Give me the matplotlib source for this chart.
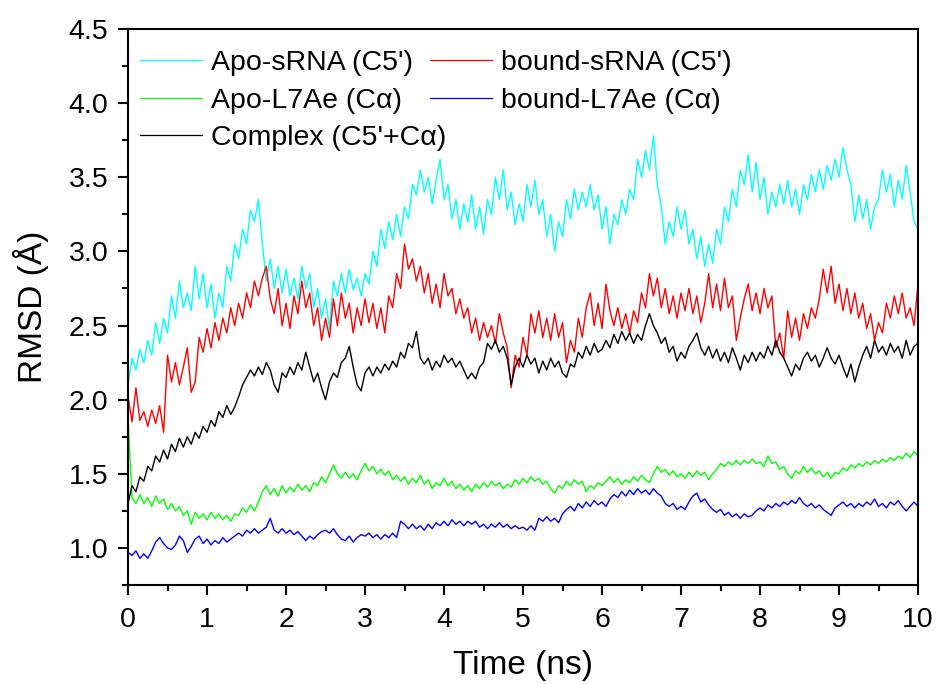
import numpy as np
import matplotlib
matplotlib.use("Agg")
import matplotlib.pyplot as plt
from matplotlib.ticker import MultipleLocator

# Time axis (ns), sampled every 0.05 ns
time_ns = np.round(np.arange(0, 201) * 0.05, 2)

apo_srna = [
    2.10, 2.28, 2.20, 2.34, 2.25, 2.40, 2.30, 2.52, 2.38, 2.55, 2.45, 2.70, 2.55, 2.80, 2.62, 2.72, 2.60, 2.90, 2.68, 2.85,
    2.62, 2.78, 2.55, 2.72, 2.62, 2.90, 2.80, 3.05, 2.95, 3.15, 3.05, 3.28, 3.20, 3.35, 3.05, 2.80, 2.95, 2.75, 2.90, 2.72,
    2.88, 2.70, 2.82, 2.68, 2.90, 2.75, 2.85, 2.62, 2.75, 2.55, 2.68, 2.48, 2.80, 2.70, 2.85, 2.72, 2.88, 2.74, 2.82, 2.70,
    2.85, 2.78, 3.00, 2.90, 3.15, 3.02, 3.20, 3.08, 3.25, 3.10, 3.30, 3.22, 3.45, 3.38, 3.55, 3.40, 3.50, 3.32, 3.48, 3.62,
    3.35, 3.45, 3.22, 3.35, 3.15, 3.32, 3.20, 3.38, 3.15, 3.30, 3.12, 3.35, 3.25, 3.50, 3.35, 3.55, 3.28, 3.40, 3.18, 3.32,
    3.20, 3.45, 3.30, 3.48, 3.25, 3.35, 3.10, 3.25, 3.00, 3.20, 3.10, 3.35, 3.22, 3.42, 3.28, 3.40, 3.30, 3.45, 3.28, 3.38,
    3.15, 3.30, 3.05, 3.25, 3.18, 3.35, 3.25, 3.42, 3.35, 3.62, 3.50, 3.68, 3.55, 3.78, 3.45, 3.30, 3.05, 3.20, 3.10, 3.30,
    3.15, 3.28, 3.05, 3.15, 2.95, 3.10, 2.90, 3.05, 2.92, 3.15, 3.05, 3.30, 3.20, 3.42, 3.30, 3.55, 3.45, 3.65, 3.40, 3.60,
    3.35, 3.50, 3.25, 3.40, 3.30, 3.45, 3.32, 3.48, 3.30, 3.42, 3.25, 3.45, 3.35, 3.52, 3.40, 3.55, 3.42, 3.58, 3.48, 3.62,
    3.50, 3.70, 3.55, 3.45, 3.20, 3.38, 3.22, 3.35, 3.15, 3.30, 3.35, 3.55, 3.40, 3.52, 3.30, 3.48, 3.35, 3.58, 3.40, 3.20,
    3.15,
]

bound_srna = [
    2.02, 1.85, 2.08, 1.86, 1.92, 1.82, 1.93, 1.84, 1.96, 1.78, 2.30, 2.12, 2.25, 2.10, 2.22, 2.35, 2.05, 2.12, 2.42, 2.32,
    2.48, 2.35, 2.52, 2.40, 2.55, 2.45, 2.62, 2.50, 2.65, 2.55, 2.72, 2.62, 2.80, 2.70, 2.82, 2.90, 2.68, 2.58, 2.75, 2.50,
    2.65, 2.48, 2.70, 2.58, 2.80, 2.62, 2.72, 2.50, 2.62, 2.40, 2.55, 2.42, 2.68, 2.50, 2.72, 2.55, 2.65, 2.45, 2.62, 2.50,
    2.68, 2.52, 2.65, 2.48, 2.62, 2.45, 2.70, 2.62, 2.85, 2.75, 3.05, 2.88, 2.95, 2.80, 2.90, 2.72, 2.85, 2.65, 2.78, 2.62,
    2.85, 2.70, 2.75, 2.58, 2.68, 2.55, 2.62, 2.45, 2.55, 2.40, 2.52, 2.42, 2.50, 2.38, 2.58, 2.45, 2.35, 2.08, 2.30, 2.22,
    2.42, 2.30, 2.58, 2.45, 2.60, 2.42, 2.55, 2.40, 2.58, 2.42, 2.52, 2.25, 2.40, 2.32, 2.55, 2.42, 2.62, 2.72, 2.50, 2.65,
    2.48, 2.78, 2.60, 2.50, 2.62, 2.48, 2.58, 2.45, 2.60, 2.52, 2.72, 2.62, 2.85, 2.70, 2.82, 2.62, 2.75, 2.58, 2.70, 2.55,
    2.72, 2.60, 2.75, 2.58, 2.70, 2.52, 2.65, 2.85, 2.62, 2.78, 2.60, 2.82, 2.62, 2.70, 2.40, 2.55, 2.68, 2.78, 2.60, 2.72,
    2.58, 2.75, 2.62, 2.70, 2.35, 2.45, 2.28, 2.60, 2.42, 2.55, 2.40, 2.58, 2.48, 2.62, 2.55, 2.68, 2.88, 2.72, 2.90, 2.65,
    2.78, 2.60, 2.75, 2.58, 2.72, 2.55, 2.65, 2.48, 2.58, 2.40, 2.52, 2.45, 2.65, 2.55, 2.70, 2.58, 2.72, 2.55, 2.62, 2.50,
    2.78,
]

apo_l7ae = [
    1.88, 1.34, 1.30, 1.36, 1.30, 1.34, 1.28, 1.35, 1.30, 1.33, 1.26, 1.30, 1.25, 1.28, 1.22, 1.25, 1.16, 1.24, 1.20, 1.23,
    1.19, 1.24, 1.20, 1.23, 1.19, 1.22, 1.18, 1.23, 1.22, 1.27, 1.24, 1.29, 1.25, 1.31, 1.38, 1.42, 1.36, 1.40, 1.35, 1.42,
    1.37, 1.41, 1.38, 1.43, 1.39, 1.42, 1.38, 1.44, 1.42, 1.48, 1.44, 1.50, 1.56, 1.50, 1.47, 1.51, 1.47, 1.50, 1.46, 1.52,
    1.57, 1.52, 1.55, 1.50, 1.53, 1.49, 1.52, 1.46, 1.49, 1.45, 1.48, 1.43, 1.47, 1.44, 1.49, 1.43, 1.46, 1.40, 1.44, 1.42,
    1.47, 1.42, 1.45, 1.40, 1.43, 1.39, 1.42, 1.38, 1.43, 1.40, 1.44, 1.41, 1.45, 1.42, 1.44, 1.40, 1.43, 1.41, 1.46, 1.43,
    1.47, 1.44, 1.48, 1.45, 1.47, 1.43, 1.45, 1.40, 1.37, 1.42, 1.40, 1.45, 1.42, 1.46, 1.43, 1.45, 1.38, 1.42, 1.40, 1.44,
    1.42, 1.45, 1.48, 1.44, 1.47, 1.43, 1.46, 1.44, 1.48, 1.45, 1.49, 1.46, 1.44, 1.50, 1.55, 1.51, 1.53, 1.49, 1.52, 1.48,
    1.50, 1.47, 1.51, 1.48, 1.52, 1.49, 1.51, 1.46, 1.50, 1.53, 1.57, 1.55, 1.58, 1.56, 1.59, 1.56, 1.59, 1.57, 1.60, 1.57,
    1.58, 1.55, 1.62, 1.57, 1.58, 1.53, 1.55, 1.50, 1.47, 1.52, 1.50, 1.55, 1.51, 1.54, 1.50, 1.52, 1.48, 1.51, 1.47, 1.51,
    1.50, 1.54, 1.52, 1.56, 1.54, 1.57, 1.55, 1.58, 1.56, 1.59, 1.57, 1.60, 1.58, 1.61, 1.59, 1.62, 1.60, 1.64, 1.61, 1.65,
    1.62,
]

bound_l7ae = [
    0.97, 0.95, 0.98, 0.93, 0.96, 0.93, 0.98, 1.04, 1.07, 1.03, 1.00, 0.99, 1.02, 1.08, 1.05, 0.97, 1.01, 1.06, 1.08, 1.03,
    1.06, 1.02, 1.05, 1.03, 1.07, 1.04, 1.06, 1.08, 1.10, 1.08, 1.12, 1.10, 1.13, 1.10, 1.12, 1.14, 1.20, 1.12, 1.10, 1.13,
    1.10, 1.12, 1.09, 1.11, 1.08, 1.05, 1.08, 1.06, 1.09, 1.11, 1.12, 1.10, 1.13, 1.09, 1.06, 1.05, 1.08, 1.04, 1.07, 1.09,
    1.08, 1.10, 1.07, 1.09, 1.06, 1.09, 1.07, 1.10, 1.07, 1.18, 1.16, 1.13, 1.16, 1.13, 1.15, 1.12, 1.16, 1.13, 1.17, 1.15,
    1.18, 1.15, 1.19, 1.16, 1.18, 1.15, 1.18, 1.16, 1.18, 1.14, 1.16, 1.13, 1.16, 1.14, 1.17, 1.14, 1.16, 1.13, 1.15, 1.13,
    1.14, 1.12, 1.15, 1.12, 1.20, 1.18, 1.21, 1.18, 1.20, 1.17, 1.23, 1.26, 1.28, 1.25, 1.30, 1.27, 1.31, 1.28, 1.32, 1.29,
    1.31, 1.28, 1.33, 1.36, 1.34, 1.38, 1.35, 1.39, 1.36, 1.40, 1.37, 1.39, 1.36, 1.40, 1.37, 1.35, 1.30, 1.28, 1.30, 1.26,
    1.28, 1.26, 1.31, 1.35, 1.37, 1.31, 1.33, 1.29, 1.26, 1.24, 1.26, 1.22, 1.24, 1.21, 1.23, 1.20, 1.23, 1.21, 1.22, 1.25,
    1.27, 1.25, 1.29, 1.27, 1.30, 1.28, 1.31, 1.29, 1.32, 1.30, 1.34, 1.30, 1.28, 1.30, 1.27, 1.29, 1.26, 1.24, 1.22, 1.27,
    1.29, 1.31, 1.28, 1.30, 1.27, 1.30, 1.28, 1.31, 1.29, 1.33, 1.28, 1.30, 1.27, 1.31, 1.29, 1.32, 1.28, 1.25, 1.28, 1.31,
    1.28,
]

complex_rmsd = [
    1.30, 1.42, 1.38, 1.48, 1.45, 1.55, 1.52, 1.62, 1.58, 1.66, 1.60, 1.70, 1.65, 1.74, 1.68, 1.75, 1.70, 1.78, 1.74, 1.82,
    1.78, 1.86, 1.82, 1.92, 1.88, 1.96, 1.90, 1.95, 2.02, 2.10, 2.15, 2.20, 2.16, 2.22, 2.17, 2.25, 2.20, 2.10, 2.05, 2.18,
    2.15, 2.22, 2.17, 2.25, 2.20, 2.32, 2.22, 2.12, 2.18, 2.08, 2.00, 2.12, 2.18, 2.15, 2.25, 2.28, 2.36, 2.22, 2.10, 2.06,
    2.18, 2.22, 2.16, 2.22, 2.18, 2.24, 2.20, 2.26, 2.22, 2.32, 2.28, 2.38, 2.35, 2.46, 2.28, 2.24, 2.28, 2.20, 2.26, 2.22,
    2.30, 2.25, 2.28, 2.22, 2.26, 2.20, 2.14, 2.18, 2.14, 2.22, 2.25, 2.38, 2.34, 2.40, 2.32, 2.36, 2.28, 2.10, 2.22, 2.28,
    2.22, 2.30, 2.24, 2.28, 2.18, 2.26, 2.20, 2.28, 2.22, 2.26, 2.18, 2.15, 2.24, 2.22, 2.32, 2.28, 2.36, 2.30, 2.38, 2.32,
    2.34, 2.40, 2.35, 2.44, 2.38, 2.46, 2.40, 2.45, 2.38, 2.44, 2.40, 2.50, 2.58, 2.50, 2.45, 2.38, 2.42, 2.32, 2.36, 2.26,
    2.32, 2.28, 2.36, 2.40, 2.45, 2.35, 2.30, 2.36, 2.28, 2.34, 2.26, 2.32, 2.25, 2.35, 2.28, 2.20, 2.30, 2.25, 2.32, 2.26,
    2.32, 2.28, 2.36, 2.30, 2.40, 2.32, 2.28, 2.22, 2.16, 2.24, 2.20, 2.28, 2.32, 2.26, 2.30, 2.22, 2.28, 2.35, 2.28, 2.24,
    2.30, 2.22, 2.15, 2.24, 2.12, 2.22, 2.30, 2.36, 2.28, 2.40, 2.32, 2.36, 2.30, 2.38, 2.32, 2.36, 2.28, 2.40, 2.30, 2.36,
    2.38,
]

series_labels = ["Apo-sRNA (C5')", "Apo-L7Ae (C\u03b1)", "Complex (C5'+C\u03b1)",
                 "bound-sRNA (C5')", "bound-L7Ae (C\u03b1)"]
series_colors = ["#00FFFF", "#00FF00", "#000000", "#FF0000", "#0000FF"]

plt.rcParams['font.family'] = ['Liberation Sans', 'DejaVu Sans']

fig = plt.figure(figsize=(9.38, 6.84), dpi=100)
ax = fig.add_axes([0.1365, 0.1447, 0.8422, 0.8129])

# draw order: cyan, red, green, blue, black (black on top)
ax.plot(time_ns, apo_srna, color=series_colors[0], lw=1.0)
ax.plot(time_ns, bound_srna, color=series_colors[3], lw=1.0)
ax.plot(time_ns, apo_l7ae, color=series_colors[1], lw=1.0)
ax.plot(time_ns, bound_l7ae, color=series_colors[4], lw=1.0)
ax.plot(time_ns, complex_rmsd, color=series_colors[2], lw=1.0)

handles = [plt.Line2D([], [], color=c, lw=0.9) for c in series_colors]
leg = ax.legend(handles, series_labels, ncol=2, loc='upper left',
                bbox_to_anchor=(0.004, 0.977), frameon=False, fontsize=20.5,
                handlelength=2.2, handletextpad=0.32, columnspacing=-0.6,
                labelspacing=0.40, borderaxespad=0.0, borderpad=0.3)

ax.set_xlim(0, 10)
ax.set_ylim(0.75, 4.5)
ax.xaxis.set_major_locator(MultipleLocator(1))
ax.xaxis.set_minor_locator(MultipleLocator(0.5))
ax.yaxis.set_minor_locator(MultipleLocator(0.25))
ax.set_yticks(np.arange(1.0, 4.51, 0.5))
ax.set_yticklabels([f"{v:.1f}" for v in np.arange(1.0, 4.51, 0.5)])

ax.tick_params(axis='both', which='major', direction='out', length=7, width=1.5,
               labelsize=20.5)
ax.tick_params(axis='x', which='major', pad=9)
ax.tick_params(axis='y', which='major', pad=7)
ax.tick_params(axis='both', which='minor', direction='out', length=4, width=1.5)
for s in ax.spines.values():
    s.set_linewidth(1.5)

ax.set_xlabel("Time (ns)", fontsize=24, labelpad=12)
ax.set_ylabel("RMSD (\u00c5)", fontsize=24, labelpad=14)

fig.savefig("out.png", dpi=100)
